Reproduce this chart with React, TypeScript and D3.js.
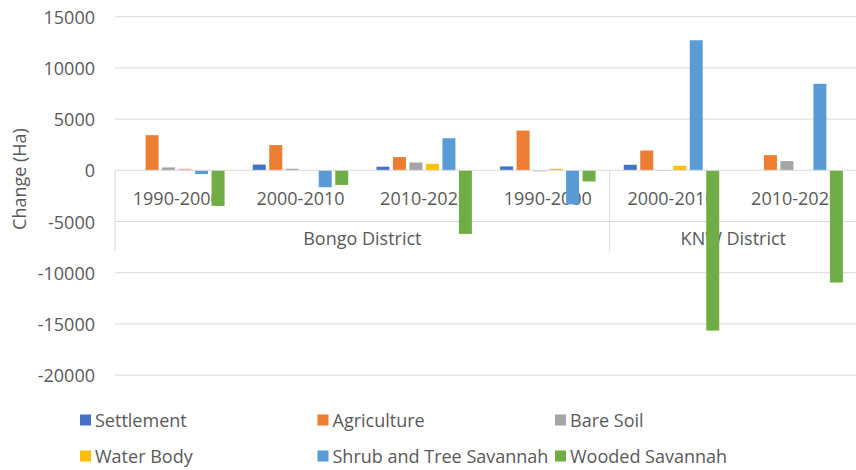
import React from "react";
import * as d3 from "d3";

const categories = ["1990-2000", "2000-2010", "2010-2020", "1990-2000", "2000-2010", "2010-2020"];
const districts = ["Bongo District", "KNW District"];
const districtSpans = [4, 2];
const seriesNames = ["Settlement", "Agriculture", "Bare Soil", "Water Body", "Shrub and Tree Savannah", "Wooded Savannah"];
const seriesColors = ["#4472C4", "#ED7D31", "#A5A5A5", "#FFC000", "#5B9BD5", "#70AD47"];
const settlement = [0, 560, 350, 380, 540, 0];
const agriculture = [3430, 2460, 1290, 3880, 1930, 1480];
const bareSoil = [280, 150, 760, -100, -60, 900];
const waterBody = [150, 0, 630, 150, 440, 0];
const shrubSavannah = [-370, -1650, 3130, -3330, 12700, 8450];
const woodedSavannah = [-3480, -1430, -6210, -1090, -15650, -10960];
const yTicks = [15000, 10000, 5000, 0, -5000, -10000, -15000, -20000];

const seriesValues = [settlement, agriculture, bareSoil, waterBody, shrubSavannah, woodedSavannah];

const W = 856;
const H = 470;
const left = 115;
const right = 857;
const FONT = "'Open Sans', sans-serif";
const FS = 18;
const TXT = "#595959";
const GRID = "#d9d9d9";

export default function App() {
  const x = d3.scaleBand<number>().domain(d3.range(categories.length)).range([left, right]).paddingInner(0).paddingOuter(0);
  const bw = x.bandwidth();
  const xi = d3.scaleBand<number>().domain(d3.range(seriesNames.length)).range([0, bw]).paddingInner(0.212).paddingOuter(0.855);
  const y = d3.scaleLinear().domain([-20000, 15000]).range([375.1, 16.7]);
  const y0 = y(0);

  const boundaries: number[] = [];
  let acc = 0;
  boundaries.push(left);
  districtSpans.forEach((s) => {
    acc += s;
    boundaries.push(left + acc * bw);
  });

  return (
    <svg width={W} height={H} style={{ position: "absolute", left: 0, top: 0, background: "#fff" }} fontFamily={FONT}>
      <rect x={0} y={0} width={W} height={H} fill="#fff" />
      {yTicks.map((t) => (
        <g key={t}>
          {t !== 0 && <line x1={left} x2={right} y1={y(t)} y2={y(t)} stroke={GRID} strokeWidth={1} />}
          <text x={95} y={y(t)} textAnchor="end" dominantBaseline="central" fontSize={FS} fill={TXT}>
            {t}
          </text>
        </g>
      ))}
      <text
        transform={`translate(19,179) rotate(-90)`}
        textAnchor="middle"
        dominantBaseline="central"
        fontSize={FS}
        fill={TXT}
      >
        Change (Ha)
      </text>
      {boundaries.map((b, i) => (
        <line key={i} x1={b} x2={b} y1={y0} y2={251} stroke={GRID} strokeWidth={1} />
      ))}
      {categories.map((c, i) => (
        <text
          key={i}
          x={(x(i) as number) + bw / 2}
          y={198}
          textAnchor="middle"
          dominantBaseline="central"
          fontSize={FS}
          fill={TXT}
        >
          {c}
        </text>
      ))}
      {districts.map((d, i) => (
        <text
          key={d}
          x={(boundaries[i] + boundaries[i + 1]) / 2}
          y={238}
          textAnchor="middle"
          dominantBaseline="central"
          fontSize={FS}
          fill={TXT}
        >
          {d}
        </text>
      ))}
      {seriesValues.map((vals, si) =>
        vals.map((v, ci) => {
          const bx = (x(ci) as number) + (xi(si) as number);
          const yt = Math.min(y(v), y0);
          const h = Math.abs(y(v) - y0);
          if (h <= 0) return null;
          return <rect key={`${si}-${ci}`} x={bx} y={yt} width={xi.bandwidth()} height={h} fill={seriesColors[si]} />;
        })
      )}
      <line x1={left} x2={right} y1={y0} y2={y0} stroke={GRID} strokeWidth={1} />
      {seriesNames.map((n, i) => {
        const col = i % 3;
        const row = Math.floor(i / 3);
        const lx = 80 + col * 237.5;
        const ly = row === 0 ? 420 : 456;
        return (
          <g key={n}>
            <rect x={lx} y={ly - 5.5} width={11} height={11} fill={seriesColors[i]} />
            <text x={lx + 15} y={ly} dominantBaseline="central" fontSize={FS} fill={TXT}>
              {n}
            </text>
          </g>
        );
      })}
    </svg>
  );
}
